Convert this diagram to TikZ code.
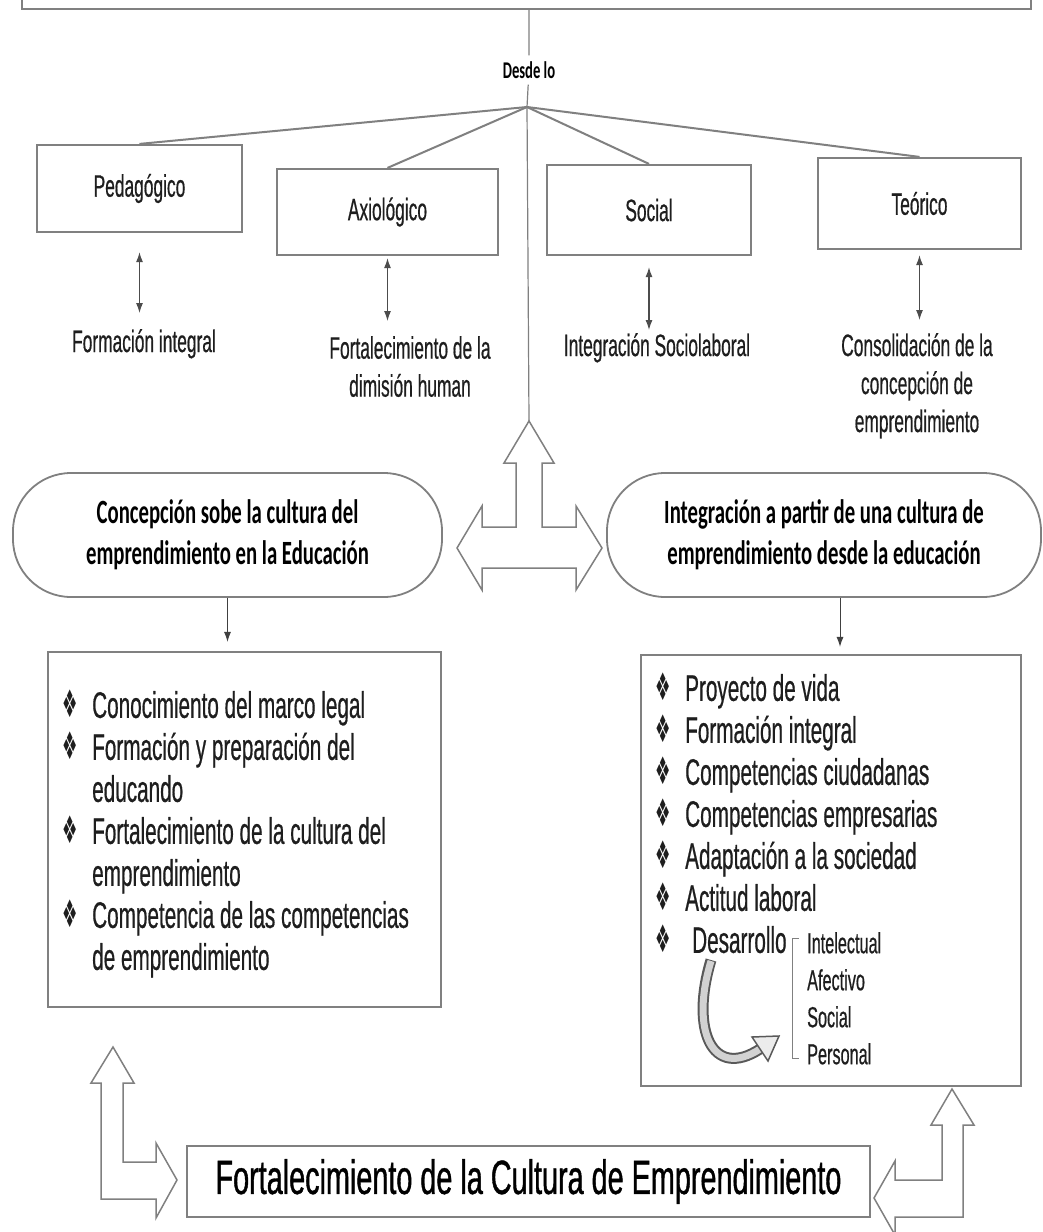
\documentclass[tikz,border=0pt]{standalone}
\usepackage{fontspec}
\setmainfont{Liberation Sans}
\newfontfamily\narrowfont{Liberation Sans}[FakeStretch=0.56,FakeBold=0.5]
\newfontfamily\bigfont{Liberation Sans}[FakeStretch=0.6,FakeBold=0.8]
\newfontfamily\ellfont{Carlito}[FakeStretch=0.61]
\newfontfamily\bulfont{DejaVu Sans}[FakeStretch=0.45]
\usetikzlibrary{arrows.meta,calc}
\definecolor{boxgray}{RGB}{128,128,128}
\definecolor{txtgray}{RGB}{30,30,30}
\newcommand{\bul}{\makebox[30pt][l]{\bulfont\fontsize{38}{38}\selectfont ❖}}

\begin{document}
\begin{tikzpicture}[x=1pt,y=-1pt,
    box/.style={draw=boxgray, line width=2.2pt, inner sep=0pt, text=txtgray, font=\narrowfont\fontsize{31}{38}\selectfont},
    lab/.style={font=\narrowfont\fontsize{31}{38}\selectfont, align=center, inner sep=0pt, text=txtgray, anchor=north},
    ell/.style={draw=boxgray, line width=1.8pt, rounded corners=58pt, minimum width=429pt, minimum height=124pt, align=center, font=\ellfont\bfseries\fontsize{34}{41}\selectfont},
    fan/.style={draw=boxgray, line width=2pt},
    dbl/.style={draw=black!70, line width=1.2pt, {Latex[length=10pt,width=7pt]}-{Latex[length=10pt,width=7pt]}},
    down/.style={draw=black!75, line width=1pt, -{Latex[length=10pt,width=7pt]}},
    big/.style={draw=boxgray, line width=1.5pt, fill=white, line join=miter},
    lst/.style={font=\narrowfont\fontsize{37}{42}\selectfont, align=left, inner sep=0pt, anchor=north west, text=txtgray}]
\fill[white] (0,0) rectangle (1042,1232);
\useasboundingbox (0,0) rectangle (1042,1232);

\node[box, minimum width=1009pt, minimum height=60pt] (topbox) at (526.5,-21) {};
\node[font=\ellfont\bfseries\fontsize{24}{28}\selectfont, inner sep=6pt] (desde) at (529,70) {Desde lo};
\coordinate (junc) at (527,107);
\draw[draw=boxgray, line width=1.2pt] (topbox.south -| desde) -- (desde) -- (junc);

\node[box, minimum width=205pt, minimum height=87pt] (ped) at (139.5,188.5) {Pedagógico};
\node[box, minimum width=221pt, minimum height=86pt] (axi) at (387.5,212) {Axiológico};
\node[box, minimum width=204pt, minimum height=90pt] (soc) at (649,210) {Social};
\node[box, minimum width=203pt, minimum height=91pt] (teo) at (919.5,203.5) {Teórico};
\draw[fan] (junc) -- (ped.north);
\draw[fan] (junc) -- (axi.north);
\draw[fan] (junc) -- (soc.north);
\draw[fan] (junc) -- (teo.north);

\node[lab] (pedlab) at (144,329) {Formación integral};
\node[lab] (axilab) at (410,336) {Fortalecimiento de la\\dimisión human};
\node[lab] (soclab) at (657,333) {Integración Sociolaboral};
\node[lab] (teolab) at (917,333) {Consolidación de la\\concepción de\\emprendimiento};
\draw[dbl, shorten <=19pt, shorten >=16pt] (ped.south) -- (ped.south |- pedlab.north);
\draw[dbl, shorten <=2pt, shorten >=15pt] (axi.south) -- (axi.south |- axilab.north);
\draw[dbl, shorten <=11pt, shorten >=3pt] (soc.south) -- (soc.south |- soclab.north);
\draw[dbl, shorten <=5pt, shorten >=13pt] (teo.south) -- (teo.south |- teolab.north);

\coordinate (bigtip) at (529,421);
\draw[draw=boxgray, line width=1.2pt] (junc) -- (bigtip);
\draw[big] (bigtip) -- (554,463) -- (542,463) -- (542,527) -- (576,527) -- (576,506) -- (602,548)
  -- (576,590) -- (576,568) -- (482,568) -- (482,590) -- (457,548) -- (482,506) -- (482,527)
  -- (516,527) -- (516,463) -- (504,463) -- cycle;

\node[ell] (lell) at (227.5,535) {Concepción sobe la cultura del\\emprendimiento en la Educación};
\node[ell, minimum width=434pt] (rell) at (824,535) {Integración a partir de una cultura de\\emprendimiento desde la educación};

\node[box, minimum width=393pt, minimum height=355pt] (lbox) at (244.5,829.5) {};
\node[box, minimum width=380pt, minimum height=431pt] (rbox) at (831,870.5) {};
\draw[down, shorten >=9pt] (lell.south) -- (lell.south |- lbox.north);
\coordinate (rdrop) at ($(rell.south)+(16,0)$);
\draw[down, shorten >=7pt] (rdrop) -- (rdrop |- rbox.north);

\node[lst] (llist) at (62,690) {\bul Conocimiento del marco legal\\
  \bul Formación y preparación del\\
  \hspace*{30pt}educando\\
  \bul Fortalecimiento de la cultura del\\
  \hspace*{30pt}emprendimiento\\
  \bul Competencia de las competencias\\
  \hspace*{30pt}de emprendimiento};

\node[lst] (rlist) at (655,673) {\bul Proyecto de vida\\
  \bul Formación integral\\
  \bul Competencias ciudadanas\\
  \bul Competencias empresarias\\
  \bul Adaptación a la sociedad\\
  \bul Actitud laboral\\
  \bul\hspace*{7pt}Desarrollo};
\node[lst, font=\narrowfont\fontsize{29}{37}\selectfont] (sub) at (807,932) {Intelectual\\Afectivo\\Social\\Personal};
\draw[draw=boxgray, line width=1pt] ([xshift=-8pt,yshift=-6pt]sub.north west) -- ++(-7,0) |- ([xshift=-8pt,yshift=6pt]sub.south west);

\draw[line width=11pt, draw=black!65] (711,960) .. controls (690,1030) and (712,1080) .. (760,1049);
\draw[line width=7pt, draw=gray!35] (711,961) .. controls (690,1030) and (712,1080) .. (760,1049);
\filldraw[fill=gray!15, draw=black!65, line width=1.5pt] (752,1037) -- (779,1036) -- (768,1061) -- cycle;

\node[box, minimum width=683pt, minimum height=71pt, font=\bigfont\fontsize{48}{56}\selectfont, text=black] (fort) at (528.5,1181.5) {Fortalecimiento de la Cultura de Emprendimiento};

\draw[big] (113,1047) -- (134,1083) -- (123,1083) -- (123,1162) -- (156,1162) -- (156,1143) -- (177,1180)
  -- (156,1218) -- (156,1199) -- (101,1199) -- (101,1083) -- (91,1083) -- cycle;
\draw[big] (952,1089) -- (974,1125) -- (963,1125) -- (963,1217) -- (895,1217) -- (895,1235) -- (874,1198)
  -- (895,1161) -- (895,1180) -- (942,1180) -- (942,1125) -- (931,1125) -- cycle;
\end{tikzpicture}
\end{document}
